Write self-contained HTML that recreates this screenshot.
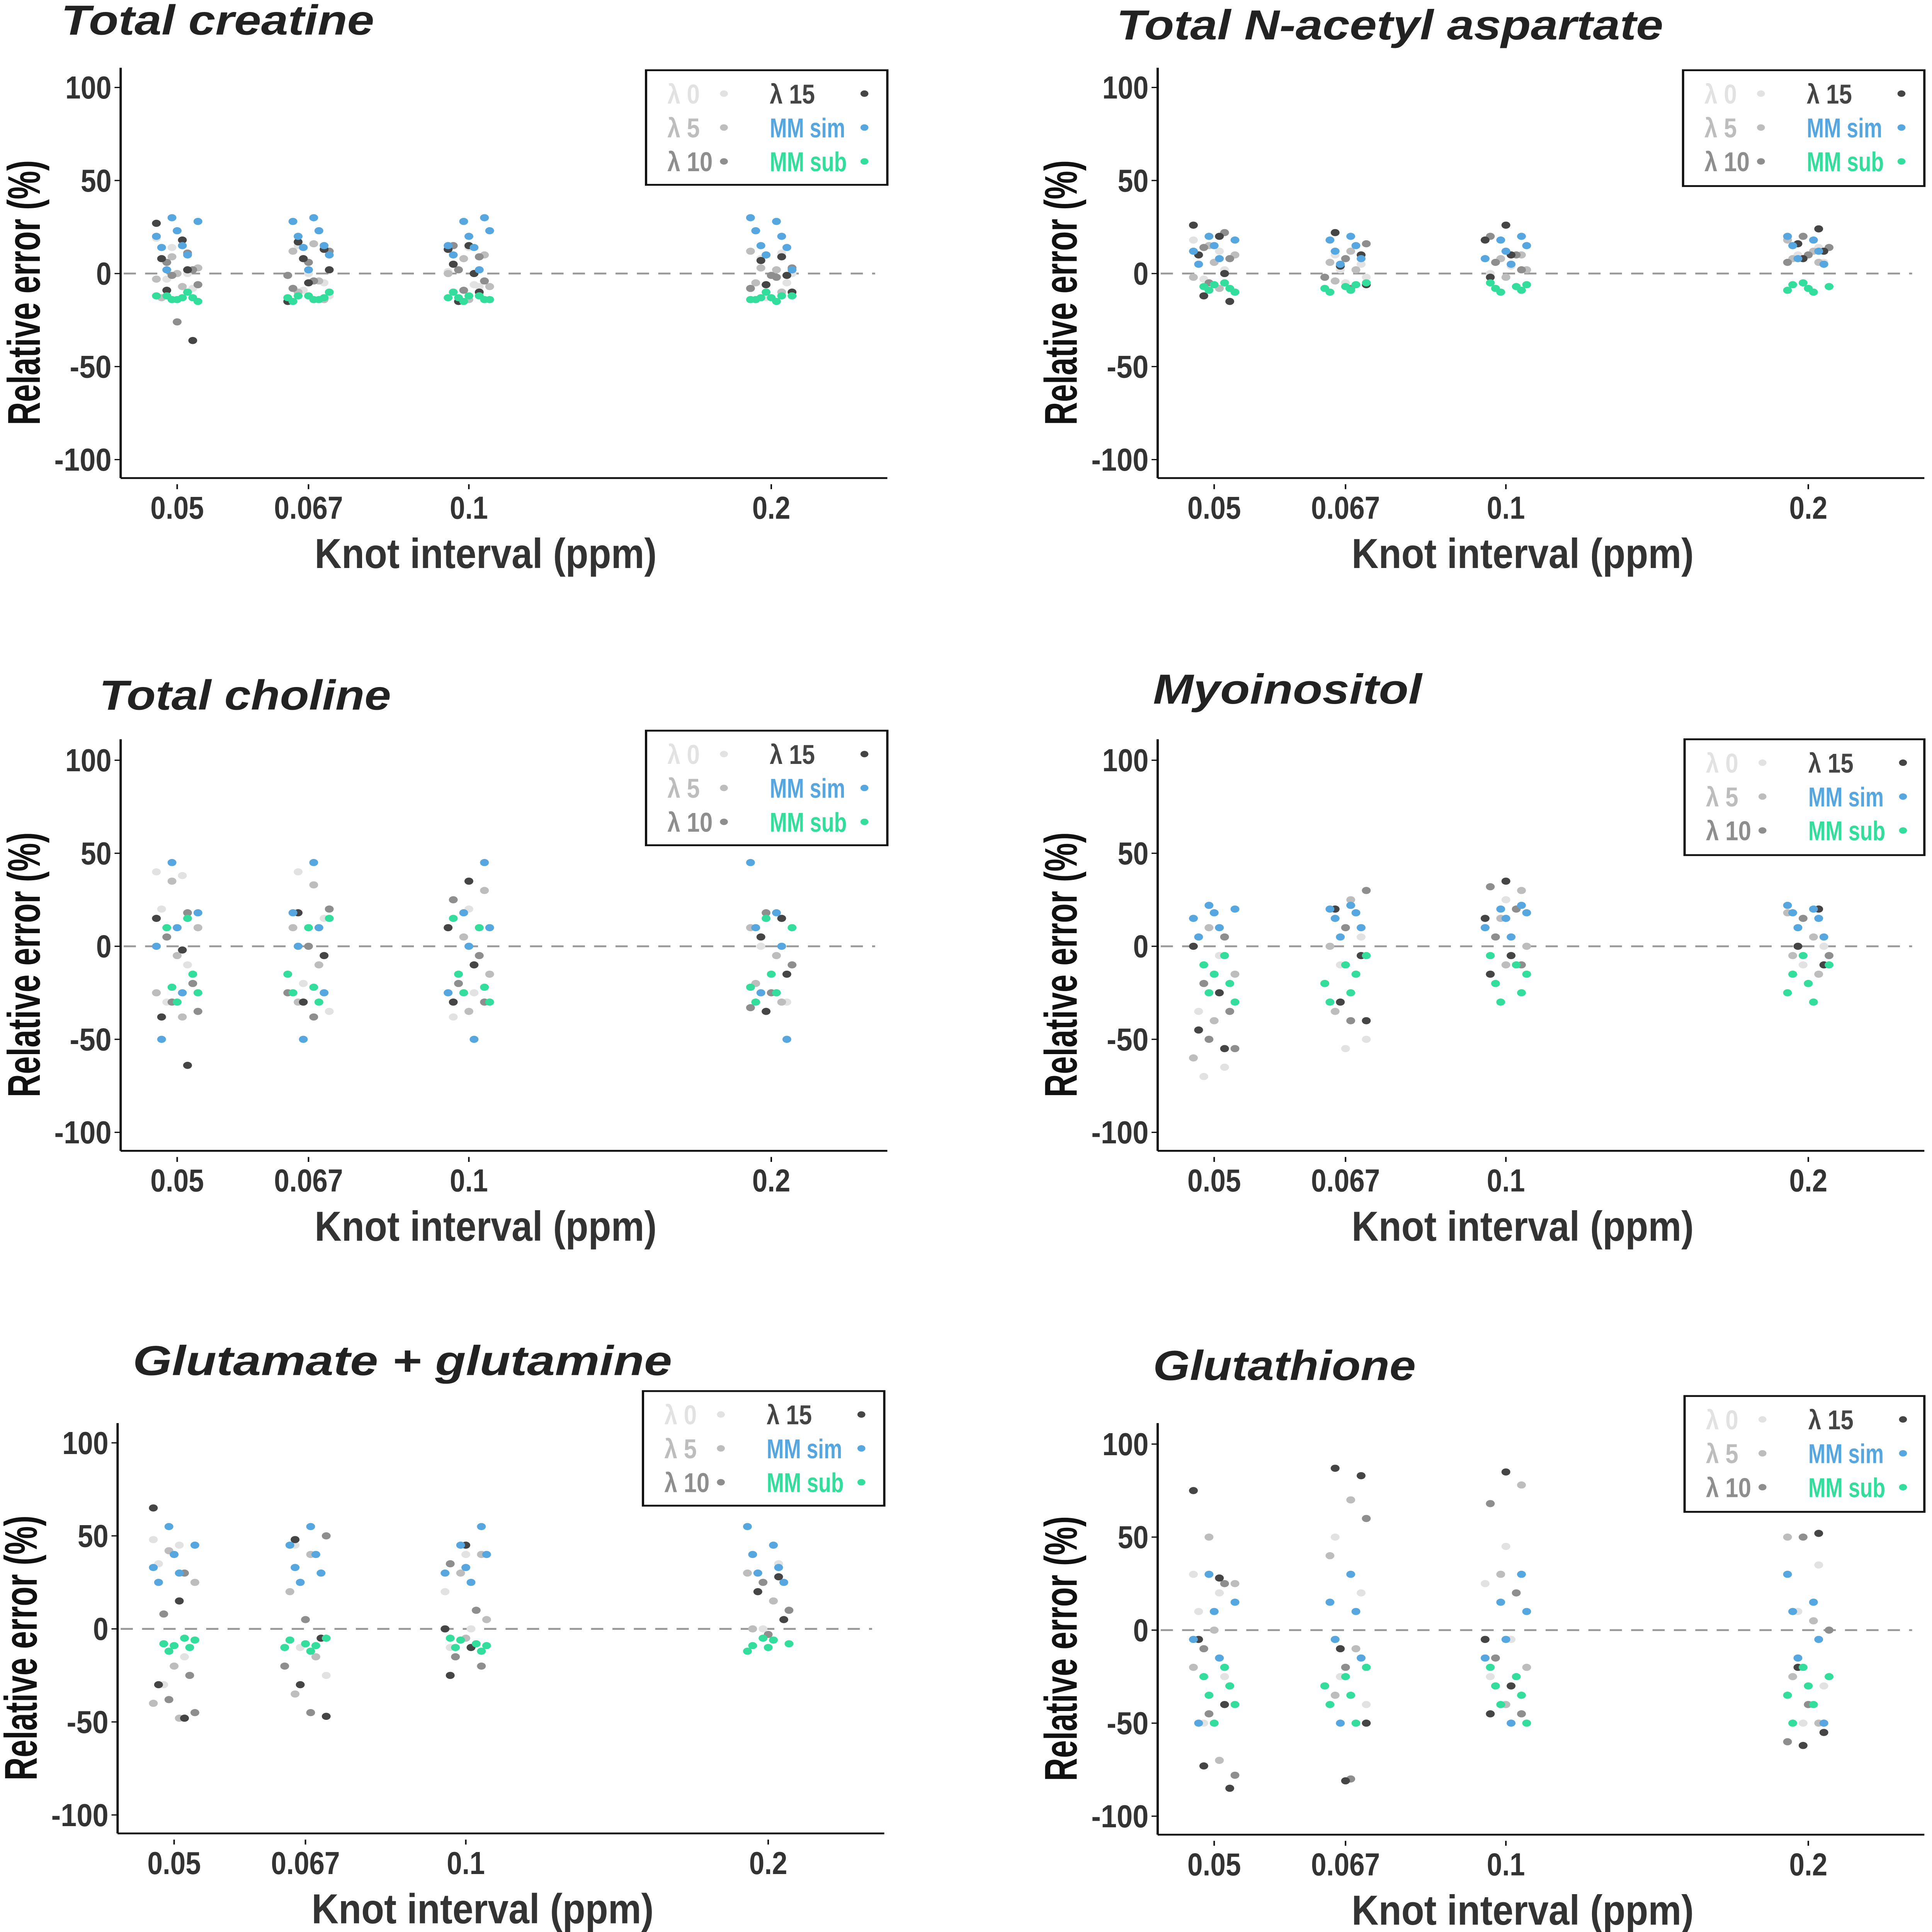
<!DOCTYPE html>
<html><head><meta charset="utf-8">
<style>
html,body{margin:0;padding:0;background:#fff;overflow:hidden;width:100vw;height:100vh;}
svg{display:block;width:100vw;height:100vh;}
text{font-family:"Liberation Sans Narrow","Liberation Sans",sans-serif;}
</style></head>
<body>
<svg id="fig" xmlns="http://www.w3.org/2000/svg" viewBox="0 0 1265 1568" preserveAspectRatio="none"><g id="root"></g></svg>
<script>
// ---- data ----
const categories = ["0.05","0.067","0.1","0.2"];
const catPos = [0.05,0.067,0.1,0.2];
const yTicks = [100,50,0,-50,-100];
const seriesNames = ["λ 0","λ 5","λ 10","λ 15","MM sim","MM sub"];
const seriesColors = ["#e2e2e2","#bdbdbd","#8e8e8e","#454545","#56a6e0","#33dd9c"];
const panelTitles = ["Total creatine","Total N-acetyl aspartate","Total choline","Myoinositol","Glutamate + glutamine","Glutathione"];

const crL0=[[19,18,14,0,-3,-8,14],[15,-5,-9,-12,0],[14,1,-6,-10,-7],[11,8,-5,-13,0]];
const crL5=[[9,3,0,-3,-7,-13],[16,12,-4,-10,-14],[10,8,-7,-14,0],[12,2,-5,-10,3]];
const crL10=[[11,6,2,-1,-6,-26],[12,6,-1,-4,-8],[15,9,2,-4,-9],[10,3,-1,-8,-2]];
const crL15=[[27,18,8,2,-9,-36],[17,13,8,2,-5,-15],[15,13,0,5,-10,-15],[9,7,-1,-6,-10]];
const crSim=[[30,28,23,20,15,14,10,2],[30,28,23,20,15,14,10,2],[30,28,23,20,15,14,10,2],[30,28,23,20,15,14,10,2]];
const crSub=[[-10,-12,-13,-14,-15,-14,-12,-13],[-10,-12,-13,-14,-15,-14,-12,-13],[-10,-12,-13,-14,-15,-14,-12,-13],[-10,-12,-13,-14,-15,-14,-12,-13]];

const naL0=[[18,12,5,2,-3],[10,5,2,-2,-5],[12,8,4,0],[14,10,6,8]];
const naL5=[[15,10,6,-2,-8],[12,6,2,-4],[10,8,2,-2],[18,12,8,6]];
const naL10=[[22,14,8,-5,-10],[16,8,-2,-8],[20,10,6,2],[20,14,10,6]];
const naL15=[[26,20,10,0,-12,-15],[22,10,4,-6],[26,18,10,-2],[24,16,12,8]];
const naSim=[[20,18,15,12,8,5],[20,18,15,12,8,5],[20,18,15,12,8,5],[20,18,15,12,8,5]];
const naSub=[[-5,-7,-8,-9,-10,-6],[-5,-7,-8,-9,-10,-6],[-5,-7,-8,-9,-10,-6],[-5,-7,-8,-9,-10,-6]];

const chL0=[[40,38,20,-10,-30],[40,15,-20,-35],[20,10,-25,-38],[15,0,-30,-35]];
const chL5=[[35,10,-5,-25,-38],[33,10,-10,-30],[30,5,-15,-35],[10,-5,-20,-30]];
const chL10=[[18,5,-20,-30,-35],[20,0,-25,-38],[25,-5,-20,-30],[18,-10,-25,-33]];
const chL15=[[15,-2,-38,-64],[18,-5,-30],[35,10,-10,-30],[15,5,-15,-35]];
const chSim=[[45,18,10,0,-25,-50],[45,18,10,0,-25,-50],[45,18,10,0,-25,-50],[45,18,10,0,-25,-50]];
const chSub=[[15,10,-15,-22,-25,-30],[15,10,-15,-22,-25,-30],[15,10,-15,-22,-25,-30],[15,10,-15,-22,-25,-30]];

const myL0=[[15,-5,-35,-65,-70],[20,5,-10,-50,-55],[25,10,-5],[20,10,0,-10]];
const myL5=[[10,-15,-40,-60],[25,0,-15,-35],[30,15,0,-10],[18,5,-5,-15]];
const myL10=[[5,-20,-35,-50,-55],[30,10,-20,-40],[32,20,5,-10],[15,-5,-20]];
const myL15=[[0,-25,-45,-55],[20,-5,-30,-40],[35,15,-5,-15],[20,0,-10]];
const mySim=[[22,20,18,15,10,5],[22,20,18,15,10,5],[22,20,18,15,10,5],[22,20,18,15,10,5]];
const mySub=[[-5,-10,-20,-25,-30,-15],[-5,-10,-20,-25,-30,-15],[-5,-10,-20,-25,-30,-15],[-5,-10,-20,-25,-30,-15]];

const gxL0=[[48,45,35,-15,-30],[45,30,-10,-25],[40,20,0,-10],[35,20,5,0]];
const gxL5=[[42,25,-20,-40,-48],[40,20,-15,-35],[40,30,5,-5],[30,15,0]];
const gxL10=[[30,8,-25,-38,-45],[50,5,-20,-45],[35,10,-15,-20],[25,10,-3]];
const gxL15=[[65,15,-30,-48],[48,-5,-30,-47],[45,0,-10,-25],[28,20,5]];
const gxSim=[[55,45,40,33,30,25],[55,45,40,33,30,25],[55,45,40,33,30,25],[55,45,40,33,30,25]];
const gxSub=[[-5,-8,-10,-12,-6,-9],[-5,-8,-10,-12,-6,-9],[-5,-8,-10,-12,-6,-9],[-5,-8,-10,-12,-6,-9]];

const gsL0=[[30,20,10,-25,-50],[50,20,-25,-40],[45,25,-5,-25],[35,10,-30,-50]];
const gsL5=[[50,25,0,-20,-70],[70,40,-10,-35],[78,30,-20,-40],[50,5,-25,-50]];
const gsL10=[[25,-10,-30,-45,-78],[60,-20,-30,-80],[68,20,-15,-45],[50,0,-40,-60]];
const gsL15=[[75,28,-5,-40,-73,-85],[87,83,-10,-50,-81],[85,-5,-30,-45],[52,-20,-55,-62]];
const gsSim=[[30,15,10,-5,-15,-50],[30,15,10,-5,-15,-50],[30,15,10,-5,-15,-50],[30,15,10,-5,-15,-50]];
const gsSub=[[-20,-25,-30,-35,-40,-50],[-20,-25,-30,-35,-40,-50],[-20,-25,-30,-35,-40,-50],[-20,-25,-30,-35,-40,-50]];

const panelData=[[crL0,crL5,crL10,crL15,crSim,crSub],[naL0,naL5,naL10,naL15,naSim,naSub],[chL0,chL5,chL10,chL15,chSim,chSub],[myL0,myL5,myL10,myL15,mySim,mySub],[gxL0,gxL5,gxL10,gxL15,gxSim,gxSub],[gsL0,gsL5,gsL10,gsL15,gsSim,gsSub]];

const layout=[
 {x0:79,yTop:55,yBot:388,y0:222,y100:71,tx:40,ty:28,tw:205,lg:[423,57,158,93]},
 {x0:758,yTop:55,yBot:388,y0:222,y100:71,tx:731,ty:32,tw:358,lg:[1102,57,158,94]},
 {x0:79,yTop:600,yBot:934,y0:768,y100:617,tx:65,ty:576,tw:191,lg:[423,593,158,93]},
 {x0:758,yTop:600,yBot:934,y0:768,y100:617,tx:755,ty:571,tw:176,lg:[1103,600,157,94]},
 {x0:77,yTop:1155,yBot:1488,y0:1322,y100:1171,tx:87,ty:1116,tw:353,lg:[421,1129,158,93]},
 {x0:758,yTop:1155,yBot:1489,y0:1323,y100:1172,tx:755,ty:1120,tw:172,lg:[1103,1133,157,94]}
];
const NS="http://www.w3.org/2000/svg";
const root=document.getElementById('root');
function mk(tag,attrs,parent){const e=document.createElementNS(NS,tag);for(const k in attrs)e.setAttribute(k,attrs[k]);(parent||root).appendChild(e);return e;}
function cw(s,size){let w=0;for(const ch of s){if(/[0-9]/.test(ch))w+=0.42;else if(ch=='.')w+=0.2;else if(ch=='-')w+=0.3;else if(ch==' ')w+=0.22;else if(ch=='M')w+=0.55;else if(ch=='λ')w+=0.42;else if(/[mw]/.test(ch))w+=0.55;else if(/[il]/.test(ch))w+=0.2;else w+=0.4;}return w*size;}
function xScale(L,v){
  const anchors=[0.05,0.067,0.1,0.2], px=[37,123,228,426];
  for(let i=0;i<anchors.length-1;i++){ if(v<=anchors[i+1]){const t=(v-anchors[i])/(anchors[i+1]-anchors[i]);return L.x0+px[i]+t*(px[i+1]-px[i]);} }
  return L.x0+px[3];
}
function yScale(L,v){return L.y0-(L.y0-L.y100)*v/100;}

panelData.forEach((pd,p)=>{
  const L=layout[p];
  const g=mk('g',{});
  
  
  const title=mk('text',{x:L.tx,y:L.ty,'font-size':34,'font-weight':'bold','font-style':'italic',fill:'#222',textLength:L.tw,lengthAdjust:'spacingAndGlyphs'},g);
  title.textContent=panelTitles[p];
  
  
  const x1=L.x0+502;
  const ya=mk('line',{x1:L.x0,y1:L.yTop,x2:L.x0,y2:L.yBot,stroke:'#111','stroke-width':1.5},g);
  
  
  const xa=mk('line',{x1:L.x0,y1:L.yBot,x2:x1,y2:L.yBot,stroke:'#111','stroke-width':1.5},g);
  
  
  const ref=mk('line',{x1:L.x0+2,y1:yScale(L,0),x2:x1-8,y2:yScale(L,0),stroke:'#999','stroke-width':1.5,'stroke-dasharray':'8,6'},g);
  
  
  yTicks.forEach(t=>{
    const y=yScale(L,t);
    mk('line',{x1:L.x0-4,y1:y,x2:L.x0,y2:y,stroke:'#111','stroke-width':1},g);
    const s=String(t);
    const tl=mk('text',{x:L.x0-6,y:y+9,'font-size':26,'font-weight':'bold','text-anchor':'end',fill:'#333',textLength:cw(s,24),lengthAdjust:'spacingAndGlyphs'},g);
    tl.textContent=s;
    
    
  });
  categories.forEach((c,ci)=>{
    const x=xScale(L,catPos[ci]);
    mk('line',{x1:x,y1:L.yBot+5,x2:x,y2:L.yBot+9,stroke:'#111','stroke-width':1},g);
    const xl=mk('text',{x:x,y:L.yBot+33,'font-size':26,'font-weight':'bold','text-anchor':'middle',fill:'#333',textLength:cw(c,24),lengthAdjust:'spacingAndGlyphs'},g);
    xl.textContent=c;
    
    
  });
  const xt=mk('text',{x:L.x0+239,y:L.yBot+73,'font-size':34,'font-weight':'bold','text-anchor':'middle',fill:'#333',textLength:224,lengthAdjust:'spacingAndGlyphs'},g);
  xt.textContent='Knot interval (ppm)';
  
  
  const ycy=(L.yTop+L.yBot)/2+16;
  const yt=mk('text',{x:0,y:0,'font-size':30,'font-weight':'bold','text-anchor':'middle',fill:'#111',textLength:215,lengthAdjust:'spacingAndGlyphs',transform:'translate('+(L.x0-53)+','+ycy+') rotate(-90)'},g);
  yt.textContent='Relative error (%)';
  
  
  pd.forEach((ser,s)=>{
    ser.forEach((vals,ci)=>{
      vals.forEach((v,i)=>{
        const j=(((i*5+s*3+ci*2)%9)-4)*3.4;
        const pt=mk('circle',{cx:xScale(L,catPos[ci])+j,cy:yScale(L,v),r:2.9,fill:seriesColors[s]},g);
        
        
      });
    });
  });
  const [lx,ly,lw,lh]=L.lg;
  const lgd=mk('g',{},g);
  
  
  mk('rect',{x:lx,y:ly,width:lw,height:lh,fill:'#fff',stroke:'#111','stroke-width':1.5},lgd);
  seriesNames.forEach((n,s)=>{
    const col=Math.floor(s/3), row=s%3;
    const ty=ly+19+row*27.5;
    const t=mk('text',{x:lx+14+col*67,y:ty+8,'font-size':22,'font-weight':'bold',fill:seriesColors[s],textLength:cw(n,20),lengthAdjust:'spacingAndGlyphs'},lgd);
    t.textContent=n;
    
    
    mk('circle',{cx:lx+51+col*92,cy:ty,r:2.6,fill:seriesColors[s]},lgd);
  });
});
</script>
</body></html>
